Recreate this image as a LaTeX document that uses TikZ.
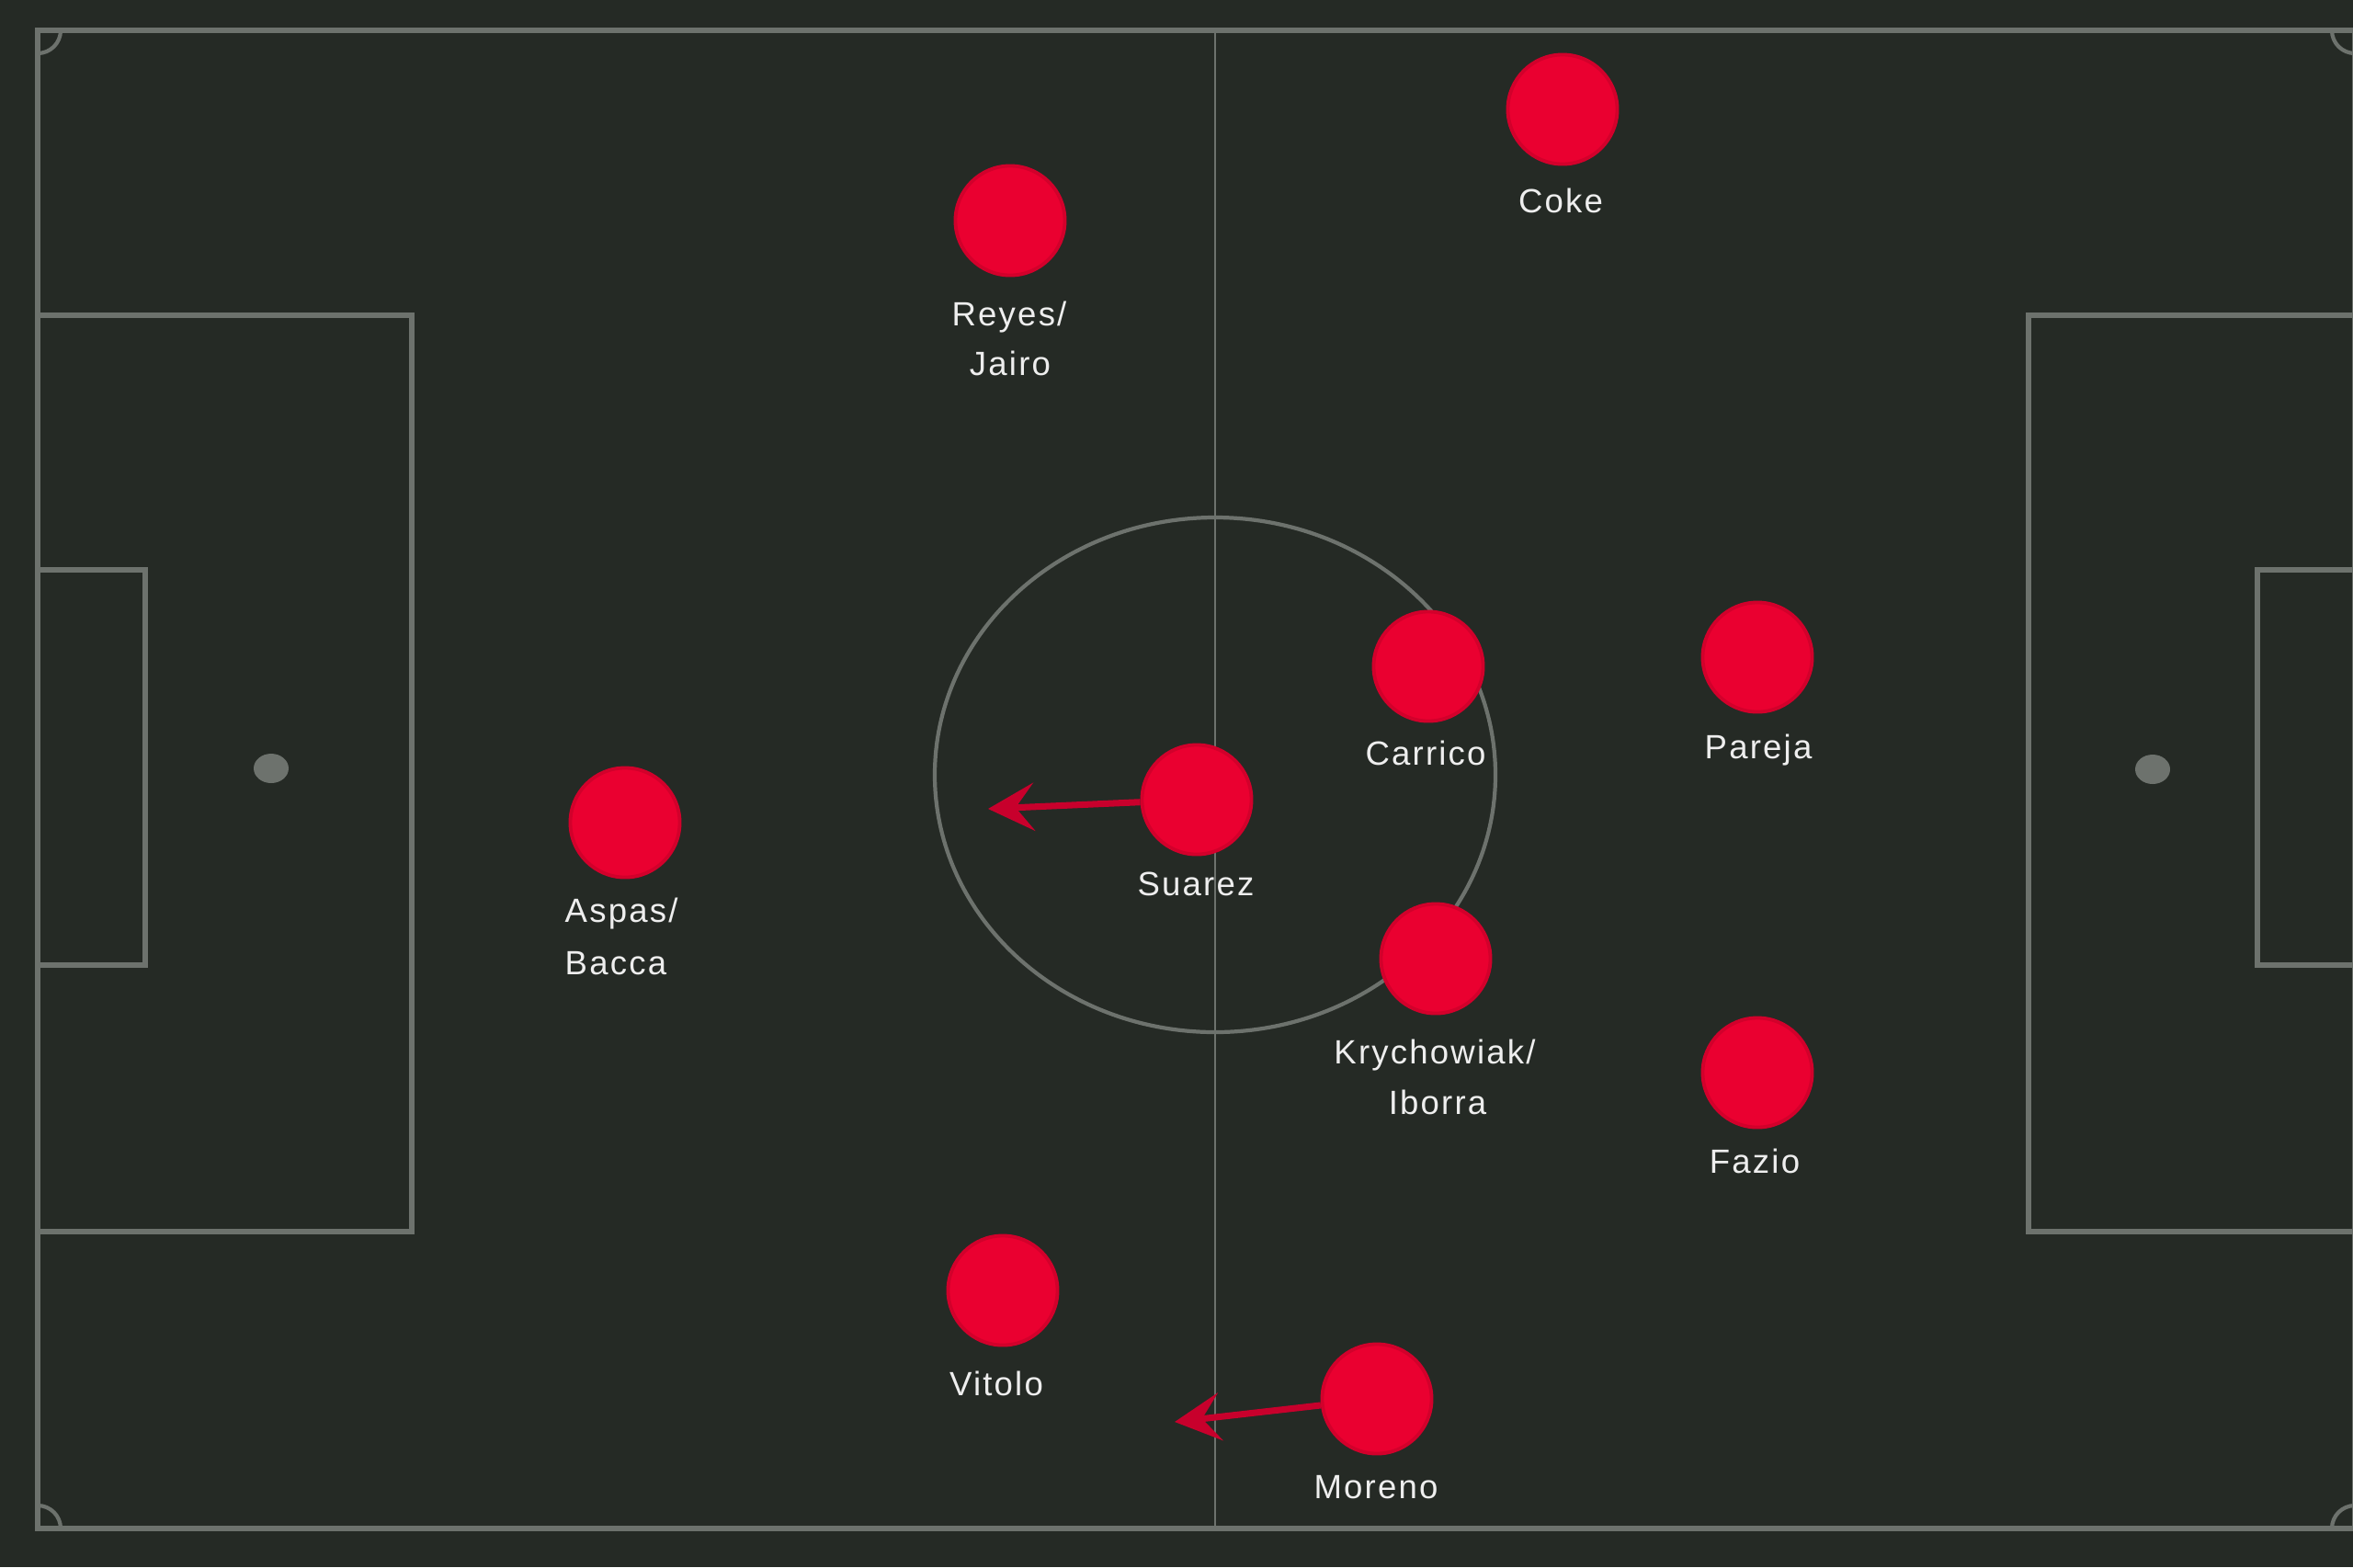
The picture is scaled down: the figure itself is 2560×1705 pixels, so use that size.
\documentclass[tikz,border=0pt]{standalone}
\usepackage{fontspec}
\setmainfont{Liberation Sans}
\newfontfamily\lblfont[LetterSpace=6]{Liberation Sans}
\usetikzlibrary{arrows.meta}
\definecolor{pitchbg}{HTML}{252A25}
\definecolor{pitchline}{HTML}{6D726D}
\definecolor{playerfill}{HTML}{EA0030}
\definecolor{playerrim}{HTML}{D2002B}
\definecolor{arrowred}{HTML}{C8002C}
\definecolor{lbltext}{HTML}{EEEEEE}
\begin{document}
\begin{tikzpicture}[x=0.01cm,y=-0.01cm,
  pline/.style={draw=pitchline, line width=1.6pt},
  midline/.style={draw=pitchline, line width=0.8pt},
  circline/.style={draw=pitchline, line width=1.2pt},
  player/.style={circle, fill=playerfill, draw=playerrim, line width=1.1pt, minimum size=1.19cm, inner sep=0pt},
  lbl/.style={text=lbltext, font=\lblfont\fontsize{10.4pt}{15pt}\selectfont, inner sep=0pt, anchor=base},
  lblleft/.style={lbl, anchor=base west},
  move/.style={draw=arrowred, line width=2pt, -{Stealth[length=0.5cm, width=0.52cm, inset=0.2cm]}}
]
\useasboundingbox (0,0) rectangle (2560,1705);
\fill[pitchbg] (0,0) rectangle (2560,1705);

% pitch markings
\draw[pline] (41,33) rectangle (2562,1663);
\draw[midline] (1322,33) -- (1322,1663);
\draw[circline] (1322,843) ellipse [x radius=305, y radius=280];
\draw[pline] (41,343) rectangle (448,1340);
\draw[pline] (41,620) rectangle (158,1050);
\draw[pline] (2562,343) rectangle (2207,1340);
\draw[pline] (2562,620) rectangle (2456,1050);
\fill[pitchline] (295,836) ellipse [x radius=19, y radius=16];
\fill[pitchline] (2342,837) ellipse [x radius=19, y radius=16];
\draw[circline] (66,33) arc (0:90:25);
\draw[circline] (2537,33) arc (180:90:25);
\draw[circline] (66,1663) arc (0:-90:25);
\draw[circline] (2537,1663) arc (180:270:25);

% players
\node[player] (coke) at (1700,119) {};
\node[player] (reyes) at (1099,240) {};
\node[player] (carrico) at (1554,725) {};
\node[player] (pareja) at (1912,715) {};
\node[player] (suarez) at (1302,870) {};
\node[player] (aspas) at (680,895) {};
\node[player] (krych) at (1562,1043) {};
\node[player] (fazio) at (1912,1167) {};
\node[player] (vitolo) at (1091,1404) {};
\node[player] (moreno) at (1498,1522) {};

% movement arrows
\coordinate (suarezTo) at (1075,880);
\coordinate (morenoTo) at (1278,1547);
\draw[move] (suarez) -- (suarezTo);
\draw[move] (moreno) -- (morenoTo);

% labels
\node[lbl] (lcoke) at (1698,231) {Coke};
\node[lbl] (lreyesA) at (1098,354) {Reyes/};
\node[lbl] (lreyesB) at (1099,408) {Jairo};
\node[lbl] (lcarrico) at (1551,832) {Carrico};
\node[lbl] (lpareja) at (1913,825) {Pareja};
\node[lbl] (lsuarez) at (1301,974) {Suarez};
\node[lblleft] (laspasA) at (614,1003) {Aspas/};
\node[lblleft] (laspasB) at (614,1060) {Bacca};
\node[lbl] (lkrychA) at (1561,1157) {Krychowiak/};
\node[lbl] (lkrychB) at (1564,1212) {Iborra};
\node[lbl] (lfazio) at (1909,1276) {Fazio};
\node[lbl] (lvitolo) at (1084,1518) {Vitolo};
\node[lbl] (lmoreno) at (1497,1630) {Moreno};
\end{tikzpicture}
\end{document}
